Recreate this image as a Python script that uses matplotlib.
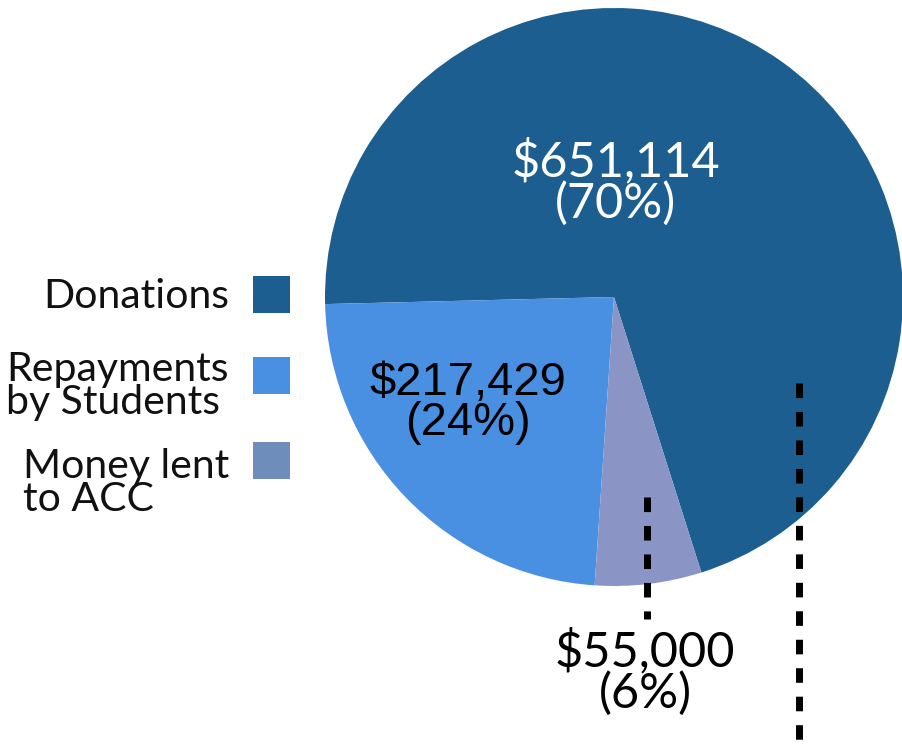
import matplotlib
matplotlib.use("Agg")
import matplotlib.pyplot as plt
from matplotlib.patches import Rectangle

# ---- data ----
categories = ["Donations", "Repayments\nby Students", "Money lent\nto ACC"]
values = [651114, 217429, 55000]
percent_labels = [70, 24, 6]
slice_colors = ["#1B5E8F", "#4A90E2", "#8A95C6"]
legend_colors = ["#1B5E8F", "#4A90E2", "#6F8DBA"]

W, H = 903, 751
fig = plt.figure(figsize=(W / 100, H / 100), dpi=100)
ax = fig.add_axes([0, 0, 1, 1])

def py(y):  # pixel-from-top -> data y
    return H - y

cx, cy, r = 614, py(297), 289
wedges, _ = ax.pie(values, colors=slice_colors, startangle=-72.4, counterclock=True,
                   center=(cx, cy), radius=r, frame=True,
                   wedgeprops=dict(linewidth=0))
ax.set_xlim(0, W)
ax.set_ylim(0, H)
ax.set_aspect("equal")
ax.axis("off")

# dashed leader lines
dash = dict(color="black", linewidth=5, dashes=(2.1, 2.0), solid_capstyle="butt",
            dash_capstyle="butt")
ax.plot([647, 647], [py(497), py(619)], **dash)
ax.plot([799, 799], [py(383), py(760)], **dash)

# value labels
label_pos = [(616, 182), (468, 403), (645, 672)]
label_color = ["white", "black", "black"]
label_font = ["Lato", "Liberation Sans", "Lato"]
label_size = [35, 34, 35]
for v, p, pos, c, f, s in zip(values, percent_labels, label_pos, label_color,
                              label_font, label_size):
    ax.text(pos[0], py(pos[1]), f"${v:,}\n({p}%)", ha="center", va="center",
            color=c, fontsize=s, family=f, linespacing=0.9)

# legend (text right-aligned, square to the right)
text_right = 229
sq_x, sq_w = 253, 37
sq_centers = [295, 376, 461]
text_centers = [297, 386, 483]
for cat, col, sc, tc in zip(categories, legend_colors, sq_centers, text_centers):
    ax.add_patch(Rectangle((sq_x, py(sc) - sq_w / 2), sq_w, sq_w, color=col, lw=0))
    ax.text(text_right, py(tc), cat, ha="right", va="center", multialignment="left",
            fontsize=29.5, family="Lato", color="#111111", linespacing=0.88)

fig.savefig("out.png", dpi=100)
